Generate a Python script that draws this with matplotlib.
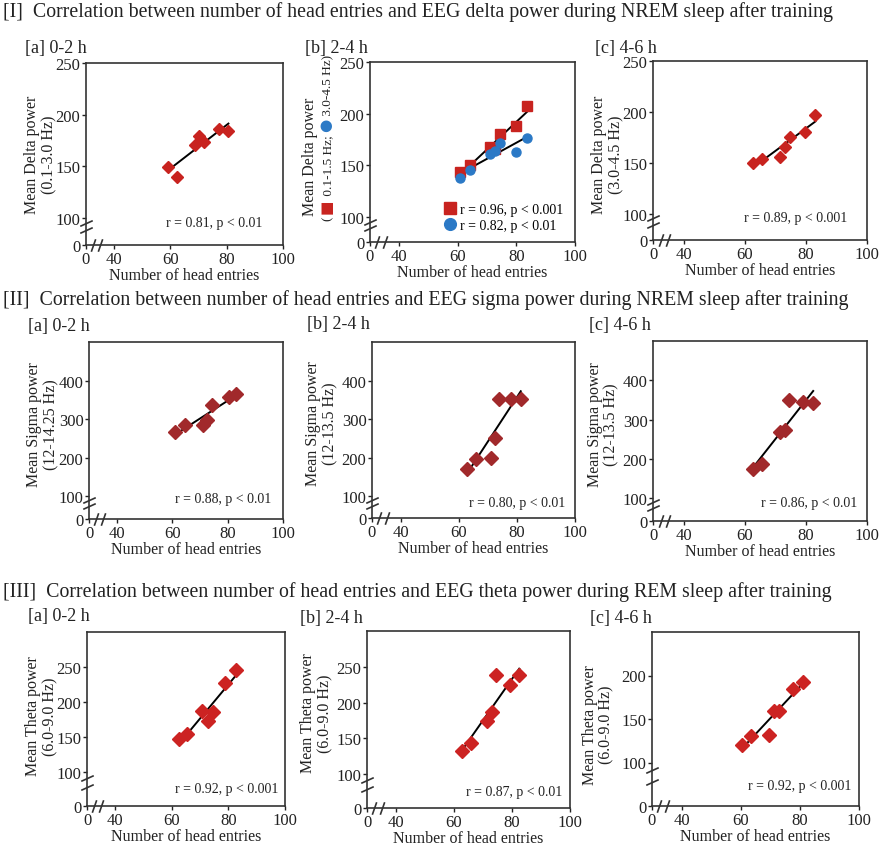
import numpy as np
import matplotlib.pyplot as plt

plt.rcParams['font.family'] = ['Liberation Serif', 'DejaVu Sans']

# ---------------
# Data
# ---------------

# [I] delta power (NREM)
delta_02_x = [59.1, 62.4, 68.6, 70.2, 71.8, 77.1, 80.6]
delta_02_y = [149, 140, 171, 179, 174, 186, 184]

delta_24_x = [60.9, 64.1, 70.9, 72.6, 74.4, 80.0, 83.6]
delta_24_low_y = [144, 150, 168, 166, 180, 188, 207]     # 0.1-1.5 Hz
delta_24_high_y = [138, 146, 161, 164, 172, 163, 177]    # 3.0-4.5 Hz

delta_46_x = [62.7, 65.8, 71.6, 73.2, 74.8, 79.8, 83.1]
delta_46_y = [150, 154, 156, 165, 175, 180, 197]

# [II] sigma power (NREM)
sigma_02_x = [61.1, 64.6, 71.0, 72.7, 74.5, 80.4, 83.2]
sigma_02_y = [266, 285, 284, 298, 336, 357, 364]

sigma_24_x = [62.9, 65.8, 71.1, 72.4, 73.9, 78.1, 81.3]
sigma_24_y = [170, 196, 199, 252, 353, 353, 353]

sigma_46_x = [62.8, 65.8, 71.4, 73.1, 74.4, 79.2, 82.4]
sigma_46_y = [175, 187, 268, 274, 349, 345, 342]

# [III] theta power (REM)
theta_02_x = [62.4, 65.3, 70.8, 72.8, 74.5, 78.8, 82.6]
theta_02_y = [147, 154, 187, 173, 185, 227, 245]

theta_24_x = [62.6, 65.9, 71.4, 73.1, 74.5, 79.4, 82.5]
theta_24_y = [133, 144, 174, 187, 238, 225, 238]

theta_46_x = [60.3, 63.4, 69.4, 71.1, 72.9, 77.7, 81.1]
theta_46_y = [120, 130, 132, 159, 159, 185, 192]

x_ticks = [0, 40, 60, 80, 100]

# ---------------
# Settings
# ---------------
W, H = 883, 845
RED1 = '#c8231f'
RED2 = '#a1292b'
RED3 = '#cc2322'
BLUE = '#2b79c6'
INK = '#222222'

fig = plt.figure(figsize=(W / 100, H / 100), dpi=100)


def rect(l, r, t, b):
    return [l / W, 1 - b / H, (r - l) / W, (b - t) / H]


def broken(brk, low):
    # values below brk are squeezed into [low, brk]
    def fwd(v):
        v = np.asarray(v, float)
        return np.where(v >= brk, v, low + v * (brk - low) / brk)

    def inv(d):
        d = np.asarray(d, float)
        return np.where(d >= brk, d, (d - low) * brk / (brk - low))
    return fwd, inv


def fitline(ax, xs, ys):
    k, m = np.polyfit(xs, ys, 1)
    xx = np.array([min(xs), max(xs)])
    ax.plot(xx, k * xx + m, color='black', lw=1.4, zorder=3)


def panel(box, ymax, yticks, y0, ylab, ylab_xy):
    ax = fig.add_axes(rect(*box))
    ax.set_xscale('function', functions=broken(40, 30))
    ax.set_yscale('function', functions=broken(100, y0))
    ax.set_xlim(0, 100)
    ax.set_ylim(0, ymax)
    ax.set_xticks(x_ticks)
    ax.set_yticks(yticks)
    ax.minorticks_off()
    ax.tick_params(direction='out', length=3, width=1, pad=1,
                   labelsize=12, colors=INK)
    for s in ax.spines.values():
        s.set_color('#333333')
        s.set_linewidth(1.2)
    ax.set_xlabel('Number of head entries', fontsize=11.5, labelpad=0,
                  color=INK)
    if ylab:
        ax.text(ylab_xy[0], ylab_xy[1], ylab, transform=ax.transAxes,
                rotation=90, ha='center', va='center', fontsize=11.5,
                linespacing=1.1, color=INK)
    # axis break marks
    ax.plot([0, 0], [55, 82], ls='none', marker=[(-1, -0.45), (1, 0.45)],
            ms=9, mew=1.2, color='#333333', clip_on=False,
            transform=ax.get_yaxis_transform(), zorder=5)
    ax.plot([10, 20], [0, 0], ls='none', marker=[(-0.35, -1), (0.35, 1)],
            ms=9, mew=1.2, color='#333333', clip_on=False,
            transform=ax.get_xaxis_transform(), zorder=5)
    return ax


def rtext(ax, txt, x, y):
    ax.text(x, y, txt, transform=ax.transAxes, ha='right', va='center',
            fontsize=10, color=INK)


def diamonds(ax, xs, ys, color, ms):
    ax.plot(xs, ys, 'D', color=color, ms=ms, mec=color, zorder=4)
    fitline(ax, xs, ys)


# section headings
heads = [
    (12, '[I]  Correlation between number of head entries and EEG delta power during NREM sleep after training'),
    (300, '[II]  Correlation between number of head entries and EEG sigma power during NREM sleep after training'),
    (592, '[III]  Correlation between number of head entries and EEG theta power during REM sleep after training'),
]
for y, t in heads:
    fig.text(3 / W, 1 - y / H, t, fontsize=14.3, va='center', color=INK)

subs = [
    (25, 48, '[a] 0-2 h'), (305, 48, '[b] 2-4 h'), (595, 48, '[c] 4-6 h'),
    (28, 327, '[a] 0-2 h'), (307, 325, '[b] 2-4 h'), (589, 326, '[c] 4-6 h'),
    (28, 617, '[a] 0-2 h'), (300, 619, '[b] 2-4 h'), (590, 619, '[c] 4-6 h'),
]
for x, y, t in subs:
    fig.text(x / W, 1 - y / H, t, fontsize=13, va='center', color=INK)

# ---- Row I ----
ax = panel((86, 283, 64, 246), 250, [0, 100, 150, 200, 250], 74,
           'Mean Delta power\n(0.1-3.0 Hz)', (-0.228, 0.5))
diamonds(ax, delta_02_x, delta_02_y, RED1, 6.5)
rtext(ax, 'r = 0.81, p < 0.01', 0.893, 0.125)

ax = panel((370, 575, 63, 243), 250, [0, 100, 150, 200, 250], 76,
           None, None)
h1, = ax.plot(delta_24_x, delta_24_low_y, 's', color=RED1, ms=6.5, zorder=4)
h2, = ax.plot(delta_24_x, delta_24_high_y, 'o', color=BLUE, ms=6.5, zorder=4)
fitline(ax, delta_24_x, delta_24_low_y)
fitline(ax, delta_24_x, delta_24_high_y)
ax.legend([h1, h2], ['r = 0.96, p < 0.001', 'r = 0.82, p < 0.01'],
          loc='lower right', bbox_to_anchor=(0.99, 0.0), frameon=False,
          fontsize=10, handlelength=0.9, handletextpad=0.3,
          labelspacing=0.25, markerscale=1.3, borderaxespad=0.3)
ax.text(-0.293, 0.48, 'Mean Delta power', transform=ax.transAxes,
        rotation=90, ha='center', va='center', fontsize=11.5, color=INK)
# second label line with coloured symbols, built piece by piece upward
lab_x = -0.205
pieces = [(' ', INK, 9.5, 'Liberation Serif', 0),
          ('\u25a0', RED1, 11, 'DejaVu Sans', -1.5),
          (' 0.1-1.5 Hz; ', INK, 9.5, 'Liberation Serif', 0),
          ('\u25cf', BLUE, 11, 'DejaVu Sans', -1.5),
          (' 3.0-4.5 Hz)', INK, 9.5, 'Liberation Serif', 0)]
prev = ax.text(lab_x, 0.12, '(', transform=ax.transAxes, rotation=90,
               ha='center', va='bottom', fontsize=9.5, color=INK,
               family='Liberation Serif')
for t, c, fs, fam, dx in pieces:
    prev = ax.annotate(t, xy=(lab_x, 1), xycoords=('axes fraction', prev),
                       xytext=(dx, 0), textcoords='offset points',
                       rotation=90, ha='center', va='bottom', fontsize=fs,
                       color=c, family=fam)

ax = panel((653, 867, 62, 241), 250, [0, 100, 150, 200, 250], 74,
           'Mean Delta power\n(3.0-4.5 Hz)', (-0.21, 0.48))
diamonds(ax, delta_46_x, delta_46_y, RED1, 6.5)
rtext(ax, 'r = 0.89, p < 0.001', 0.906, 0.123)

# ---- Row II ----
ax = panel((89, 283, 343, 520), 500, [0, 100, 200, 300, 400], 41,
           'Mean Sigma power\n(12-14.25 Hz)', (-0.237, 0.54))
diamonds(ax, sigma_02_x, sigma_02_y, RED2, 7)
rtext(ax, 'r = 0.88, p < 0.01', 0.94, 0.113)

ax = panel((372, 575, 343, 519), 500, [0, 100, 200, 300, 400], 44,
           'Mean Sigma power\n(12-13.5 Hz)', (-0.246, 0.54))
diamonds(ax, sigma_24_x, sigma_24_y, RED2, 7)
rtext(ax, 'r = 0.80, p < 0.01', 0.95, 0.09)

ax = panel((653, 867, 342, 522), 500, [0, 100, 200, 300, 400], 42,
           'Mean Sigma power\n(12-13.5 Hz)', (-0.233, 0.54))
diamonds(ax, sigma_46_x, sigma_46_y, RED2, 7)
rtext(ax, 'r = 0.86, p < 0.01', 0.953, 0.105)

# ---- Row III ----
ax = panel((87, 285, 633, 807), 300, [0, 100, 150, 200, 250], 51,
           'Mean Theta power\n(6.0-9.0 Hz)', (-0.227, 0.52))
diamonds(ax, theta_02_x, theta_02_y, RED3, 7)
rtext(ax, 'r = 0.92, p < 0.001', 0.966, 0.1)

ax = panel((367, 570, 632, 809), 300, [0, 100, 150, 200, 250], 53,
           'Mean Theta power\n(6.0-9.0 Hz)', (-0.246, 0.54))
diamonds(ax, theta_24_x, theta_24_y, RED3, 7)
rtext(ax, 'r = 0.87, p < 0.01', 0.964, 0.094)

ax = panel((652, 859, 633, 807), 250, [0, 100, 150, 200], 50,
           'Mean Theta power\n(6.0-9.0 Hz)', (-0.26, 0.47))
diamonds(ax, theta_46_x, theta_46_y, RED3, 7)
rtext(ax, 'r = 0.92, p < 0.001', 0.965, 0.119)

fig.savefig('out.png', dpi=100)
